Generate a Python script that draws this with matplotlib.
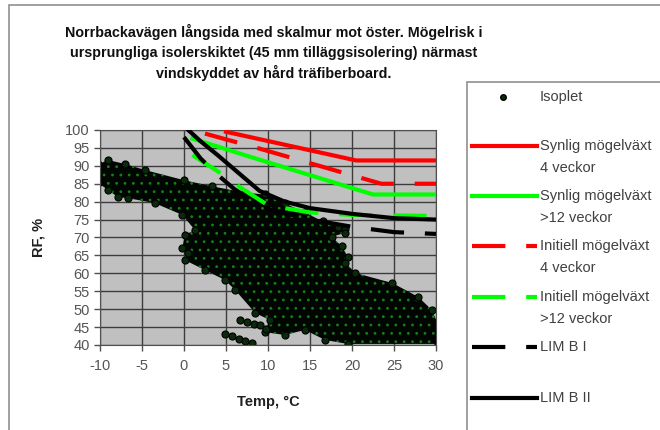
import numpy as np
import matplotlib
matplotlib.use("Agg")
from matplotlib import pyplot as plt
from matplotlib.lines import Line2D
from matplotlib.patches import Rectangle

plt.rcParams['font.family'] = ['Liberation Sans', 'DejaVu Sans']
plt.rcParams['hatch.linewidth'] = 0.8
plt.rcParams['axes.unicode_minus'] = False

# title lines
title_lines = ["Norrbackavägen långsida med skalmur mot öster. Mögelrisk i",
               "ursprungliga isolerskiktet (45 mm tilläggsisolering) närmast",
               "vindskyddet av hård träfiberboard."]

# isoplet cloud outline (temp, RF)
cloud_t = [-10.2, -9.0, -7.0, -4.6, 0.0, 3.3, 7.3, 9.6, 12.0, 14.4, 16.5, 18.3, 19.2, 19.2,
           17.6, 18.8, 19.5, 19.2, 20.4, 24.8, 27.9, 29.5, 30.2, 30.2,
           19.5, 16.8, 14.4, 12.0, 9.6, 10.2, 8.5, 6.1, 4.9, 2.5, 0.1, 0.5, -0.2, 0.1, 1.3,
           -0.2, -3.5, -6.7, -7.9, -9.0, -10.2]
cloud_rf = [90.5, 91.6, 90.5, 88.8, 86.0, 84.3, 82.5, 82.0, 79.5, 77.0, 74.5, 73.0, 72.3, 71.3,
            70.2, 67.5, 64.6, 63.0, 60.1, 57.3, 53.4, 49.8, 46.0, 40.3,
            40.3, 41.4, 44.2, 42.8, 43.6, 47.0, 48.9, 55.3, 58.1, 60.9, 63.7, 65.6, 67.0, 70.7, 72.1,
            76.3, 79.6, 81.0, 81.3, 83.2, 85.2]

# loose streaks of isoplet points below the cloud
streak1_t = [6.7, 7.5, 8.3, 9.0, 9.8]
streak1_rf = [47.0, 46.5, 46.0, 45.5, 44.6]
streak2_t = [4.9, 5.7, 6.5, 7.3, 8.1]
streak2_rf = [43.2, 42.5, 41.8, 41.2, 40.5]

# mould limit curves
syn4_t = [5.0, 20.5, 30.0]
syn4_rf = [99.5, 91.5, 91.5]
syn12_t = [1.0, 7.9, 22.5, 30.0]
syn12_rf = [97.6, 92.5, 82.0, 82.0]
ini4_t = [2.5, 8.7, 23.5, 30.0]
ini4_rf = [99.0, 95.0, 85.0, 85.0]
ini12_t = [1.0, 4.0, 7.0, 10.0, 15.0, 20.0, 30.0]
ini12_rf = [93.0, 88.5, 83.5, 79.0, 77.0, 76.3, 76.0]
limb1_t = [0.0, 2.0, 4.0, 6.0, 8.0, 10.0, 15.0, 20.0, 25.0, 30.0]
limb1_rf = [98.0, 92.0, 87.5, 83.5, 80.5, 78.0, 75.0, 73.0, 71.5, 71.0]
limb2_t = [0.5, 2.0, 4.0, 6.0, 9.0, 12.0, 15.0, 20.0, 25.0, 30.0]
limb2_rf = [100.0, 96.8, 93.0, 89.0, 83.0, 80.0, 78.2, 76.6, 75.4, 75.0]

fig = plt.figure(figsize=(6.6, 4.3), dpi=100)
fig.patches.append(Rectangle((8.5 / 660, -0.1), 1.0, 1 - 5 / 430 + 0.1, transform=fig.transFigure,
                             fill=False, edgecolor='#909090', linewidth=1.2))

ax = fig.add_axes([100 / 660, 1 - 345 / 430, 336 / 660, 215 / 430])
ax.set_facecolor('#c0c0c0')
ax.set_xlim(-10, 30)
ax.set_ylim(40, 100)
ax.set_xticks(np.arange(-10, 31, 5))
ax.set_yticks(np.arange(40, 101, 5))
ax.grid(True, color='#3c3c3c', linewidth=1.0)
ax.set_axisbelow(True)
for s in ax.spines.values():
    s.set_color('#505050')
ax.tick_params(colors='#505050', labelcolor='#555555', labelsize=10.5, length=4, width=1)
ax.tick_params(axis='x', pad=6)

# isoplet
ax.fill(cloud_t, cloud_rf, facecolor='#020602', edgecolor='#16801a', hatch='..', linewidth=0, zorder=2)
ax.scatter(cloud_t, cloud_rf, s=26, facecolor='#0b2a0b', edgecolor='black', linewidth=0.8, zorder=2)
ax.scatter(streak1_t, streak1_rf, s=26, facecolor='#0b2a0b', edgecolor='black', linewidth=0.8, zorder=2)
ax.scatter(streak2_t, streak2_rf, s=26, facecolor='#0b2a0b', edgecolor='black', linewidth=0.8, zorder=2)

lw = 3.0
ax.plot(syn4_t, syn4_rf, color='#ff0000', lw=lw, zorder=3)
ax.plot(syn12_t, syn12_rf, color='#00ff00', lw=lw, zorder=3)
ax.plot(ini4_t, ini4_rf, color='#ff0000', lw=lw, dashes=(8, 5), zorder=3)
ax.plot(ini12_t, ini12_rf, color='#00ff00', lw=lw, dashes=(8, 5), zorder=3)
ax.plot(limb1_t, limb1_rf, color='black', lw=lw, dashes=(8, 5), zorder=3)
ax.plot(limb2_t, limb2_rf, color='black', lw=lw, zorder=3)

ax.set_xlabel("Temp, °C", fontsize=10.5, fontweight='bold', color='#202020', labelpad=16)
ax.set_ylabel("RF, %", fontsize=10.5, fontweight='bold', color='#202020', labelpad=14)

for i, line in enumerate(title_lines):
    fig.text(274 / 660, 1 - (32 + 20.5 * i) / 430, line, ha='center', va='center',
             fontsize=10.3, fontweight='bold', color='#101010')

# legend box drawn by hand to match the layout
fig.patches.append(Rectangle((467 / 660, -0.1), 0.4, 1 - 82 / 430 + 0.1, transform=fig.transFigure,
                             facecolor='white', edgecolor='#909090', linewidth=1.2))
legend_items = [
    ("Synlig mögelväxt\n4 veckor", '#ff0000', None, 146),
    ("Synlig mögelväxt\n>12 veckor", '#00ff00', None, 196),
    ("Initiell mögelväxt\n4 veckor", '#ff0000', (8, 5), 246),
    ("Initiell mögelväxt\n>12 veckor", '#00ff00', (8, 5), 297),
    ("LIM B I", 'black', (8, 5), 347),
    ("LIM B II", 'black', None, 398),
]
fig.add_artist(Line2D([503 / 660], [1 - 97 / 430], marker='o', markersize=4, color='#0b2a0b',
                      markeredgecolor='black', linestyle='none', transform=fig.transFigure))
fig.text(540 / 660, 1 - 97 / 430, "Isoplet", fontsize=10.5, color='#404040', va='center')
for label, col, dsh, ypx in legend_items:
    yy = 1 - ypx / 430
    ln = Line2D([472 / 660, 537 / 660], [yy, yy], color=col, lw=lw, transform=fig.transFigure)
    if dsh is not None:
        ln.set_dashes(dsh)
    fig.add_artist(ln)
    for j, part in enumerate(label.split("\n")):
        fig.text(540 / 660, 1 - (ypx + 22 * j) / 430, part, fontsize=10.5, color='#404040', va='center')

fig.savefig("out.png", dpi=100)
